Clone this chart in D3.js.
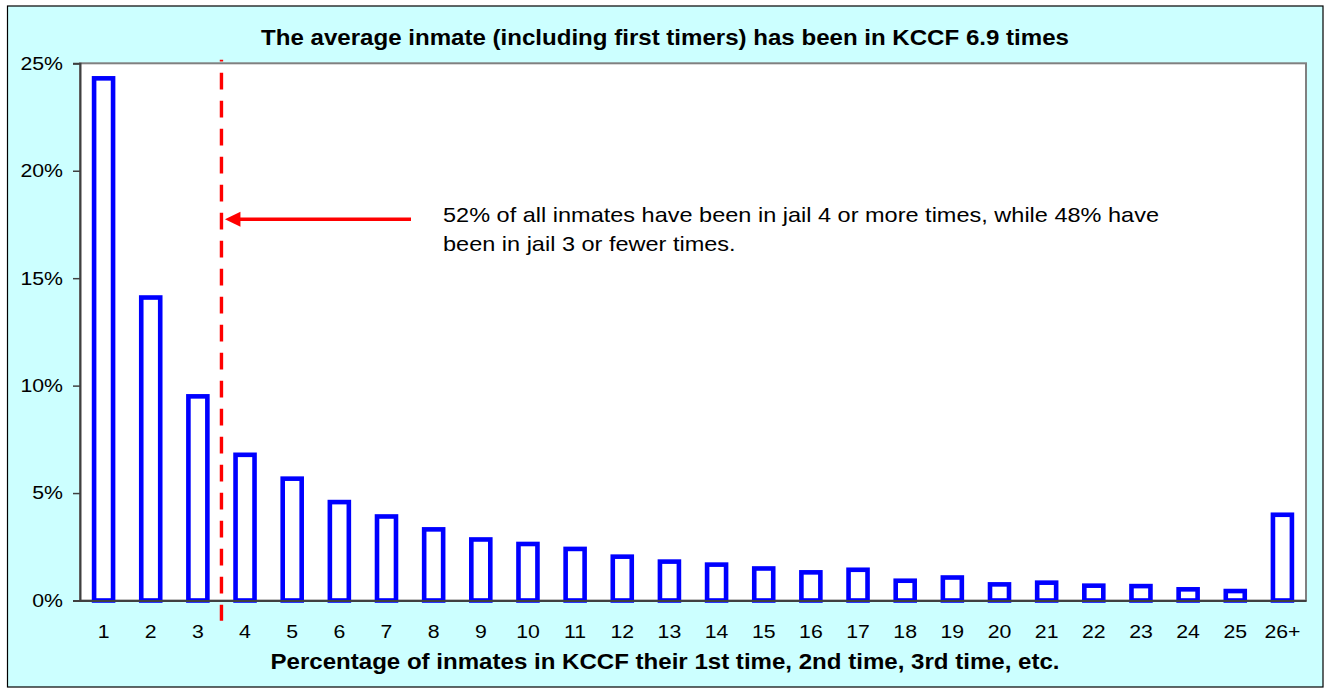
<!DOCTYPE html>
<html>
<head>
<meta charset="utf-8">
<script src="https://cdn.jsdelivr.net/npm/d3@7"></script>
<style>
  html, body { margin: 0; padding: 0; background: #ffffff; }
  svg { display: block; font-family: "Liberation Sans", Arial, sans-serif; }
</style>
</head>
<body>
<svg id="chart" width="1325" height="692"></svg>
<script>
// Visits to KCCF: share of inmates by how many times they have been booked
const categories = ["1","2","3","4","5","6","7","8","9","10","11","12","13","14","15","16","17","18","19","20","21","22","23","24","25","26+"];
const shares = [24.3, 14.1, 9.5, 6.78, 5.67, 4.58, 3.91, 3.31, 2.84, 2.63, 2.40, 2.04, 1.81, 1.67, 1.49, 1.31, 1.43, 0.92, 1.07, 0.75, 0.83, 0.69, 0.67, 0.52, 0.44, 3.99];
const yTicks = [0, 5, 10, 15, 20, 25];
const titleText = "The average inmate (including first timers) has been in KCCF 6.9 times";
const xTitleText = "Percentage of inmates in KCCF their 1st time, 2nd time, 3rd time, etc.";
const noteLines = ["52% of all inmates have been in jail 4 or more times, while 48% have",
                   "been in jail 3 or fewer times."];
const splitAfter = "3";   // dashed divider sits between "3" and "4"

const svg = d3.select("#chart");
const plot = { left: 80, top: 63.3, right: 1306, bottom: 600.5 };
const TEXT_SX = 1.12;     // slightly wide lettering used throughout

// outer frame
svg.append("rect")
  .attr("x", 7.5).attr("y", 6).attr("width", 1315.5).attr("height", 681)
  .attr("fill", "#CCFFFF").attr("stroke", "#000").attr("stroke-width", 1.2);

const x = d3.scaleBand().domain(categories).range([plot.left, plot.right]).paddingInner(0.5).paddingOuter(0.25);
const y = d3.scaleLinear().domain([0, 25]).range([plot.bottom, plot.top]);

// plot area
svg.append("rect")
  .attr("x", plot.left).attr("y", plot.top)
  .attr("width", plot.right - plot.left).attr("height", plot.bottom - plot.top)
  .attr("fill", "#fff").attr("stroke", "#808080").attr("stroke-width", 2);

// bars (outlined, stroke centred on the value)
const sw = 4.6;
svg.append("g").selectAll("rect").data(shares).join("rect")
  .attr("x", (d, i) => x(categories[i]) + sw / 2)
  .attr("width", x.bandwidth() - sw)
  .attr("y", d => y(d))
  .attr("height", d => y(0) - y(d))
  .attr("fill", "#fff").attr("stroke", "#0000FF").attr("stroke-width", sw);

// y axis
const yAxis = d3.axisLeft(y).tickValues(yTicks).tickFormat(d => d + "%").tickSize(7).tickPadding(17);
const gy = svg.append("g").attr("transform", `translate(${plot.left},0)`).call(yAxis);
gy.select(".domain").attr("stroke", "#404040").attr("stroke-width", 2);
gy.selectAll(".tick line").attr("stroke", "#404040").attr("stroke-width", 1.5);
gy.selectAll(".tick text")
  .attr("font-size", 18.5).attr("fill", "#000").attr("font-family", "Liberation Sans, Arial, sans-serif")
  .attr("x", 0).attr("transform", `translate(-17,0) scale(1.15,1)`);

// x axis (labels only)
const xAxis = d3.axisBottom(x).tickSize(0).tickPadding(24);
const gx = svg.append("g").attr("transform", `translate(0,${plot.bottom})`).call(xAxis);
gx.select(".domain").attr("stroke", "#404040").attr("stroke-width", 2);
gx.selectAll(".tick text")
  .attr("font-size", 18.5).attr("fill", "#000").attr("font-family", "Liberation Sans, Arial, sans-serif")
  .attr("transform", `scale(1.15,1)`);

// divider between 3 and 4 visits
const step = x.step();
const divX = x(splitAfter) + x.bandwidth() + (step - x.bandwidth()) / 2;
svg.append("line")
  .attr("x1", divX).attr("x2", divX).attr("y1", 59.7).attr("y2", 620.7)
  .attr("stroke", "#FF0000").attr("stroke-width", 3.4)
  .attr("stroke-dasharray", "16.7 11.3").attr("stroke-dashoffset", 15);

// arrow pointing at the divider
const arrowY = 219.3;
svg.append("line")
  .attr("x1", 411).attr("x2", divX + 16).attr("y1", arrowY).attr("y2", arrowY)
  .attr("stroke", "#FF0000").attr("stroke-width", 3.5);
svg.append("path")
  .attr("d", `M${divX + 3.5},${arrowY} L${divX + 19},${arrowY - 7.5} L${divX + 19},${arrowY + 7.5} Z`)
  .attr("fill", "#FF0000");

// helper: text placed at (tx, ty) and widened horizontally
function wideText(tx, ty, sx) {
  return svg.append("text").attr("transform", `translate(${tx},${ty}) scale(${sx},1)`);
}

// note text
const note = wideText(443, 222, TEXT_SX).attr("font-size", 21).attr("fill", "#000");
noteLines.forEach((t, i) => note.append("tspan").attr("x", 0).attr("dy", i ? 29 : 0).text(t));

// titles
wideText(665, 45, 1.095).attr("text-anchor", "middle")
  .attr("font-size", 22).attr("font-weight", "bold").text(titleText);
wideText(665, 669, 1.095).attr("text-anchor", "middle")
  .attr("font-size", 22).attr("font-weight", "bold").text(xTitleText);
</script>
</body>
</html>
